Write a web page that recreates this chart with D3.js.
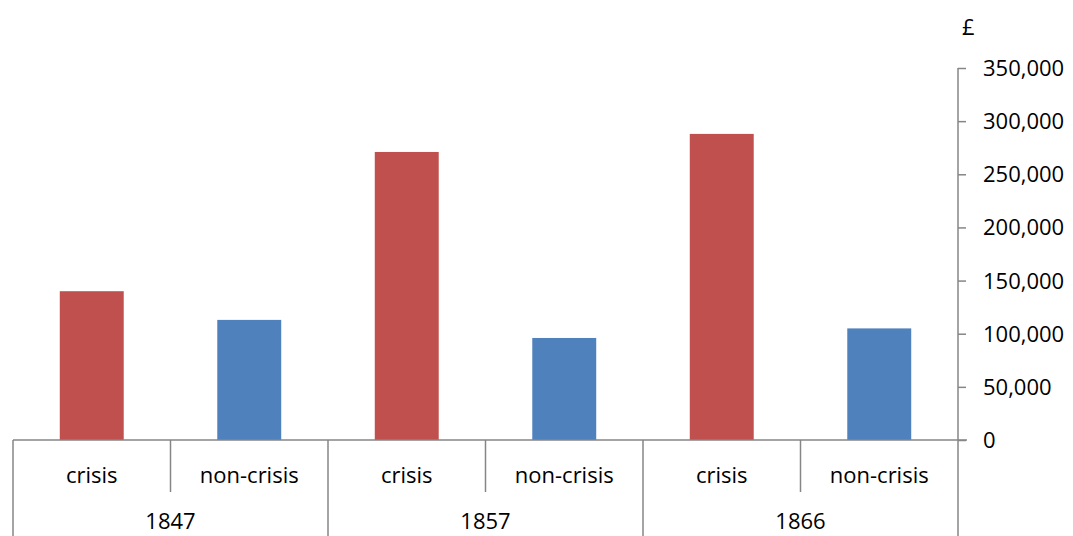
<!DOCTYPE html>
<html><head><meta charset="utf-8">
<script src="https://cdn.jsdelivr.net/npm/d3@7"></script>
<style>body{margin:0;background:#fff}svg{display:block}text{font-family:"Open Sans",sans-serif;fill:#000}</style>
</head><body>
<svg id="c" width="1073" height="536"></svg>
<script>
(function(){
const years = ["1847", "1857", "1866"];
const kinds = ["crisis", "non-crisis"];
const crisisValues = [140000, 271000, 288000];
const nonCrisisValues = [113000, 96000, 105000];
const tickValues = [0, 50000, 100000, 150000, 200000, 250000, 300000, 350000];
const unitLabel = "£";
const colors = {"crisis": "#C0504D", "non-crisis": "#4F81BD"};

const rows = [];
years.forEach((y, i) => {
  rows.push({year: y, kind: "crisis", value: crisisValues[i]});
  rows.push({year: y, kind: "non-crisis", value: nonCrisisValues[i]});
});

const svg = d3.select("#c");
const mLeft = 13, mRight = 958, mTop = 68, mBase = 440;
const x = d3.scaleBand().domain(rows.map(d => d.year + "|" + d.kind)).range([mLeft, mRight]);
const y = d3.scaleLinear().domain([0, 350000]).range([mBase, mTop]);
const axisColor = "#868686";
const fs = 22;

const bw = x.bandwidth() * 0.406;
svg.append("g").selectAll("rect").data(rows).join("rect")
  .attr("x", d => x(d.year + "|" + d.kind) + (x.bandwidth() - bw) / 2)
  .attr("y", d => y(d.value))
  .attr("width", bw)
  .attr("height", d => y(0) - y(d.value))
  .attr("fill", d => colors[d.kind]);

const yAxis = d3.axisRight(y).tickValues(tickValues).tickSize(8).tickPadding(17)
  .tickFormat(d3.format(","));
const ga = svg.append("g").attr("transform", `translate(${mRight},0)`).call(yAxis);
ga.select(".domain").remove();
ga.selectAll(".tick line").attr("stroke", axisColor).attr("stroke-width", 1.5);
ga.selectAll(".tick text").attr("font-size", fs).attr("font-family", '"Open Sans",sans-serif').attr("fill", "#000").attr("dy", "0.34em").attr("x", 25);

const lines = svg.append("g").attr("stroke", axisColor).attr("stroke-width", 1.5).attr("fill", "none");
lines.append("line").attr("x1", mRight).attr("x2", mRight).attr("y1", y(350000)).attr("y2", 536);
lines.append("line").attr("x1", mLeft).attr("x2", mRight + 9).attr("y1", y(0)).attr("y2", y(0));
years.forEach(yr => {
  const gx = x(yr + "|crisis");
  lines.append("line").attr("x1", gx).attr("x2", gx).attr("y1", mBase).attr("y2", 536);
  const sx = x(yr + "|non-crisis");
  lines.append("line").attr("x1", sx).attr("x2", sx).attr("y1", mBase).attr("y2", 492);
});

svg.append("g").selectAll("text").data(rows).join("text")
  .attr("x", d => x(d.year + "|" + d.kind) + x.bandwidth() / 2)
  .attr("y", 475).attr("dy", "0.35em")
  .attr("text-anchor", "middle").attr("font-size", fs)
  .text(d => d.kind);
svg.append("g").selectAll("text").data(years).join("text")
  .attr("x", d => x(d + "|crisis") + x.bandwidth())
  .attr("y", 529)
  .attr("text-anchor", "middle").attr("font-size", fs)
  .text(d => d);

svg.append("text").attr("x", 962).attr("y", 35).attr("font-size", fs).text(unitLabel);
})();
</script>
</body></html>
